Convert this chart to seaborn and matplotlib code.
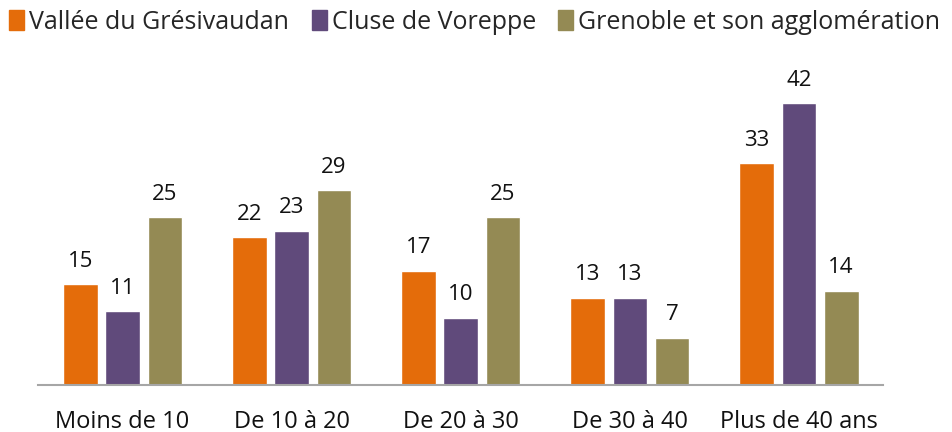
#!/usr/bin/env python3
"""Répartition par tranche (barres groupées) - trois territoires."""

import matplotlib

matplotlib.use("Agg")

import matplotlib.pyplot as plt
import pandas as pd
import seaborn as sns

categories = ["Moins de 10", "De 10 à 20", "De 20 à 30", "De 30 à 40", "Plus de 40 ans"]
series_names = ["Vallée du Grésivaudan", "Cluse de Voreppe", "Grenoble et son agglomération"]
gresivaudan = [15, 22, 17, 13, 33]
voreppe = [11, 23, 10, 13, 42]
grenoble = [25, 29, 25, 7, 14]
colors = ["#E46C0A", "#604A7B", "#948A54"]

rows = []
for name, values in zip(series_names, [gresivaudan, voreppe, grenoble]):
    for cat, val in zip(categories, values):
        rows.append({"categorie": cat, "serie": name, "valeur": val})
df = pd.DataFrame(rows)

sns.set_theme(style="white")
plt.rcParams["font.family"] = ["Open Sans", "DejaVu Sans"]

fig = plt.figure(figsize=(9.52, 4.32), dpi=100)
ax = fig.add_axes([0.04, 0.109, 0.888, 0.752])

sns.barplot(
    data=df, x="categorie", y="valeur", hue="serie",
    order=categories, hue_order=series_names, palette=colors,
    width=0.75, gap=0.18, saturation=1, ax=ax, legend=False,
)

for container in ax.containers:
    ax.bar_label(container, fmt="%d", fontsize=16, padding=9, color="#111111")

ax.set_ylim(0, 48.4)
ax.set_xlim(-0.5, 4.5)
ax.set_xlabel("")
ax.set_ylabel("")
ax.set_yticks([])
ax.tick_params(axis="x", labelsize=17, length=0, pad=18, colors="#111111")
for side in ["left", "right", "top"]:
    ax.spines[side].set_visible(False)
ax.spines["bottom"].set_color("#A6A6A6")
ax.spines["bottom"].set_linewidth(1.5)

handles = [plt.Rectangle((0, 0), 1, 1, color=c) for c in colors]
fig.legend(
    handles, series_names, loc="upper left", bbox_to_anchor=(-0.006, 1.012),
    ncol=3, frameon=False, fontsize=18, handlelength=0.6, handleheight=0.85,
    handletextpad=0.2, columnspacing=0.9, borderaxespad=0.2,
)

fig.savefig("out.png", dpi=100)
